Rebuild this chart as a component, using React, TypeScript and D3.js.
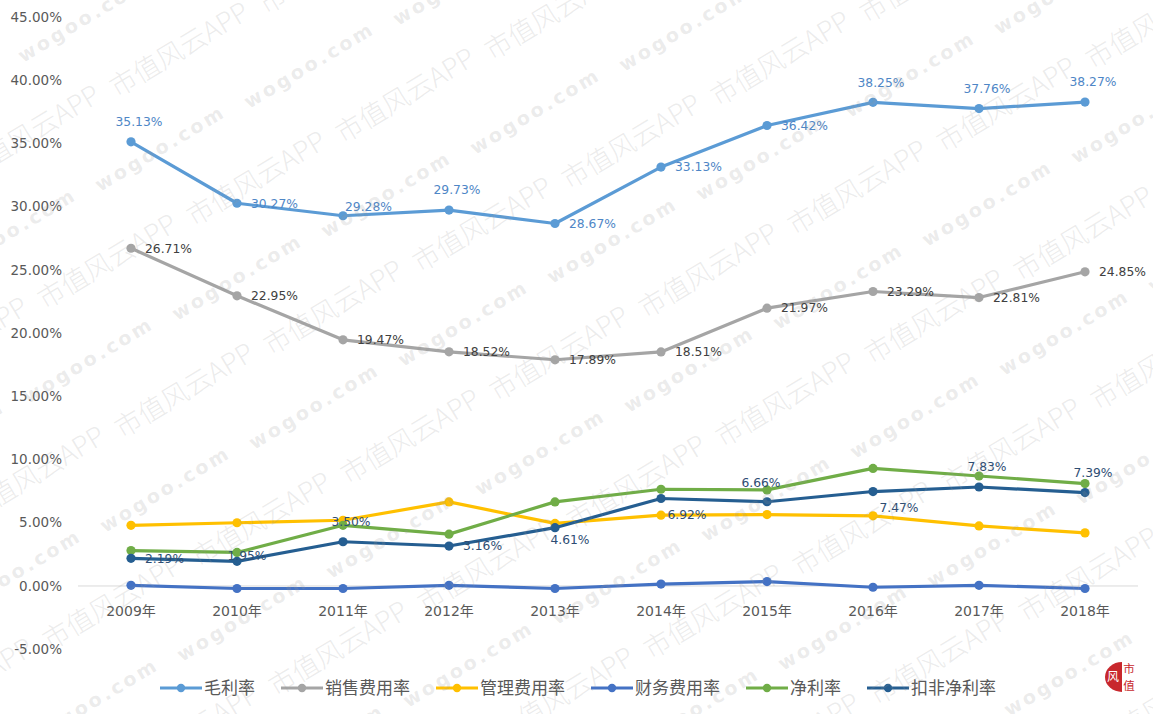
import React, { useEffect, useRef } from 'react';
import * as d3 from 'd3';

const years = ['2009年', '2010年', '2011年', '2012年', '2013年', '2014年', '2015年', '2016年', '2017年', '2018年'];
const yTicks = [-5, 0, 5, 10, 15, 20, 25, 30, 35, 40, 45];

const grossMargin = [35.13, 30.27, 29.28, 29.73, 28.67, 33.13, 36.42, 38.25, 37.76, 38.27];
const sellingRate = [26.71, 22.95, 19.47, 18.52, 17.89, 18.51, 21.97, 23.29, 22.81, 24.85];
const adminRate = [4.8, 5.0, 5.2, 6.65, 4.95, 5.6, 5.65, 5.55, 4.75, 4.2];
const financeRate = [0.05, -0.2, -0.2, 0.05, -0.2, 0.15, 0.35, -0.1, 0.05, -0.2];
const netMargin = [2.8, 2.65, 4.8, 4.1, 6.65, 7.65, 7.6, 9.3, 8.7, 8.1];
const deductedNetMargin = [2.19, 1.95, 3.5, 3.16, 4.61, 6.92, 6.66, 7.47, 7.83, 7.39];

const seriesNames = ['毛利率', '销售费用率', '管理费用率', '财务费用率', '净利率', '扣非净利率'];
const seriesColors = ['#5B9BD5', '#A5A5A5', '#FFC000', '#4472C4', '#70AD47', '#255E91'];

// where each data label sits relative to its marker (null = no label)
const grossLabelPos = ['above', 'right', 'rightUp', 'above', 'right', 'right', 'right', 'above', 'above', 'above'];
const sellingLabelPos = ['right', 'right', 'right', 'right', 'right', 'right', 'right', 'right', 'right', 'right'];
const deductedLabelPos = ['right', 'over', 'above', 'right', 'below', 'belowR', 'aboveL', 'belowR', 'above', 'above'];

const placements = {
  above: { anchor: 'middle', dx: 8, dy: -20 },
  aboveL: { anchor: 'middle', dx: -6, dy: -19 },
  right: { anchor: 'start', dx: 14, dy: 0 },
  rightUp: { anchor: 'start', dx: 2, dy: -9 },
  over: { anchor: 'middle', dx: 10, dy: -6 },
  below: { anchor: 'middle', dx: 15, dy: 12 },
  belowR: { anchor: 'middle', dx: 26, dy: 16 },
};

const numFont = '"DejaVu Sans", "Noto Sans CJK SC", sans-serif';
const cjkFont = '"Noto Sans CJK SC", sans-serif';

const App = () => {
  const ref = useRef(null);

  useEffect(() => {
    const svg = d3.select(ref.current);
    svg.selectAll('*').remove();

    const series = [
      { values: grossMargin, labels: grossLabelPos, labelColor: '#4E86C6' },
      { values: sellingRate, labels: sellingLabelPos, labelColor: '#404040' },
      { values: adminRate, labels: null },
      { values: financeRate, labels: null },
      { values: netMargin, labels: null },
      { values: deductedNetMargin, labels: deductedLabelPos, labelColor: '#2E4D73' },
    ].map((s, i) => ({ ...s, name: seriesNames[i], color: seriesColors[i] }));

    const x = d3.scaleBand().domain(years).range([78, 1138]);
    const y = d3.scaleLinear().domain([-5, 45]).range([649.2, 17]);
    const cx = (i) => x(years[i]) + x.bandwidth() / 2;

    svg.append('rect').attr('width', 1153).attr('height', 714).attr('fill', '#fff');

    // zero line
    svg.append('line')
      .attr('x1', 78).attr('x2', 1138)
      .attr('y1', y(0)).attr('y2', y(0))
      .attr('stroke', '#d9d9d9').attr('stroke-width', 1);

    // y axis labels
    svg.append('g').selectAll('text')
      .data(yTicks)
      .enter()
      .append('text')
      .attr('x', 62)
      .attr('y', d => y(d))
      .attr('dy', '0.35em')
      .attr('text-anchor', 'end')
      .attr('font-family', numFont)
      .attr('font-size', 13.5)
      .attr('fill', '#595959')
      .text(d => `${d.toFixed(2)}%`);

    // x axis labels
    svg.append('g').selectAll('text')
      .data(years)
      .enter()
      .append('text')
      .attr('x', d => x(d) + x.bandwidth() / 2)
      .attr('y', 611)
      .attr('dy', '0.35em')
      .attr('text-anchor', 'middle')
      .attr('font-family', numFont)
      .attr('font-size', 14)
      .attr('fill', '#595959')
      .text(d => d);

    const line = d3.line().x((d, i) => cx(i)).y(d => y(d));

    series.forEach(s => {
      const g = svg.append('g');
      g.append('path')
        .datum(s.values)
        .attr('d', line)
        .attr('fill', 'none')
        .attr('stroke', s.color)
        .attr('stroke-width', 3.2)
        .attr('stroke-linejoin', 'round');
      g.selectAll('circle')
        .data(s.values)
        .enter()
        .append('circle')
        .attr('cx', (d, i) => cx(i))
        .attr('cy', d => y(d))
        .attr('r', 4.6)
        .attr('fill', s.color);
    });

    // data labels
    series.filter(s => s.labels).forEach(s => {
      svg.append('g').selectAll('text')
        .data(s.values)
        .enter()
        .append('text')
        .attr('x', (d, i) => cx(i) + placements[s.labels[i]].dx)
        .attr('y', (d, i) => y(d) + placements[s.labels[i]].dy)
        .attr('dy', '0.35em')
        .attr('text-anchor', (d, i) => placements[s.labels[i]].anchor)
        .attr('font-family', numFont)
        .attr('font-size', 12.3)
        .attr('fill', s.labelColor)
        .text(d => `${d.toFixed(2)}%`);
    });

    // legend
    const legend = svg.append('g');
    const items = series.map(s => {
      const g = legend.append('g');
      g.append('line').attr('x1', 0).attr('x2', 42).attr('y1', 0).attr('y2', 0)
        .attr('stroke', s.color).attr('stroke-width', 3.2);
      g.append('circle').attr('cx', 21).attr('cy', 0).attr('r', 4.2).attr('fill', s.color);
      const t = g.append('text')
        .attr('x', 44).attr('y', 0).attr('dy', '0.35em')
        .attr('font-family', cjkFont).attr('font-size', 17)
        .attr('fill', '#595959')
        .text(s.name);
      const w = 44 + t.node().getComputedTextLength();
      return { g, w };
    });
    const gap = 26;
    const total = d3.sum(items, d => d.w) + gap * (items.length - 1);
    let lx = 578 - total / 2;
    items.forEach(it => {
      it.g.attr('transform', `translate(${lx},688)`);
      lx += it.w + gap;
    });

    // watermark
    const wm = svg.append('g').attr('pointer-events', 'none');
    const origin = [23, 63];
    const v1 = [226, 46];
    const v2 = [77, 129];
    for (let i = -6; i <= 8; i++) {
      for (let j = -6; j <= 8; j++) {
        const px = origin[0] + i * v1[0] + j * v2[0];
        const py = origin[1] + i * v1[1] + j * v2[1];
        if (px < -250 || px > 1200 || py < -60 || py > 800) continue;
        wm.append('text')
          .attr('transform', `translate(${px},${py}) rotate(-31)`)
          .attr('font-family', '"DejaVu Sans", sans-serif')
          .attr('font-weight', 'bold')
          .attr('font-size', 19)
          .attr('letter-spacing', 3)
          .attr('fill', '#9a9a9a')
          .attr('fill-opacity', 0.2)
          .text('wogoo.com');
        wm.append('text')
          .attr('transform', `translate(${px + 94},${py + 35}) rotate(-31)`)
          .attr('font-family', cjkFont)
          .attr('font-weight', 300)
          .attr('font-size', 27)
          .attr('fill', '#9a9a9a')
          .attr('fill-opacity', 0.2)
          .text('市值风云APP');
      }
    }

    // logo
    const logo = svg.append('g');
    logo.append('path')
      .attr('d', 'M1122,662 A17,15 0 0 0 1122,692 Z')
      .attr('fill', '#C8282D');
    logo.append('text')
      .attr('x', 1113).attr('y', 677).attr('dy', '0.35em')
      .attr('text-anchor', 'middle')
      .attr('font-family', cjkFont).attr('font-size', 12)
      .attr('fill', '#fff')
      .text('风');
    logo.append('text')
      .attr('x', 1129).attr('y', 669).attr('dy', '0.35em')
      .attr('text-anchor', 'middle')
      .attr('font-family', cjkFont).attr('font-size', 11.5)
      .attr('fill', '#C8282D')
      .text('市');
    logo.append('text')
      .attr('x', 1129).attr('y', 686).attr('dy', '0.35em')
      .attr('text-anchor', 'middle')
      .attr('font-family', cjkFont).attr('font-size', 11.5)
      .attr('fill', '#C8282D')
      .text('值');
  }, []);

  return (
    <svg
      ref={ref}
      width={1153}
      height={714}
      style={{ position: 'absolute', left: 0, top: 0, display: 'block' }}
    />
  );
};

export default App;
